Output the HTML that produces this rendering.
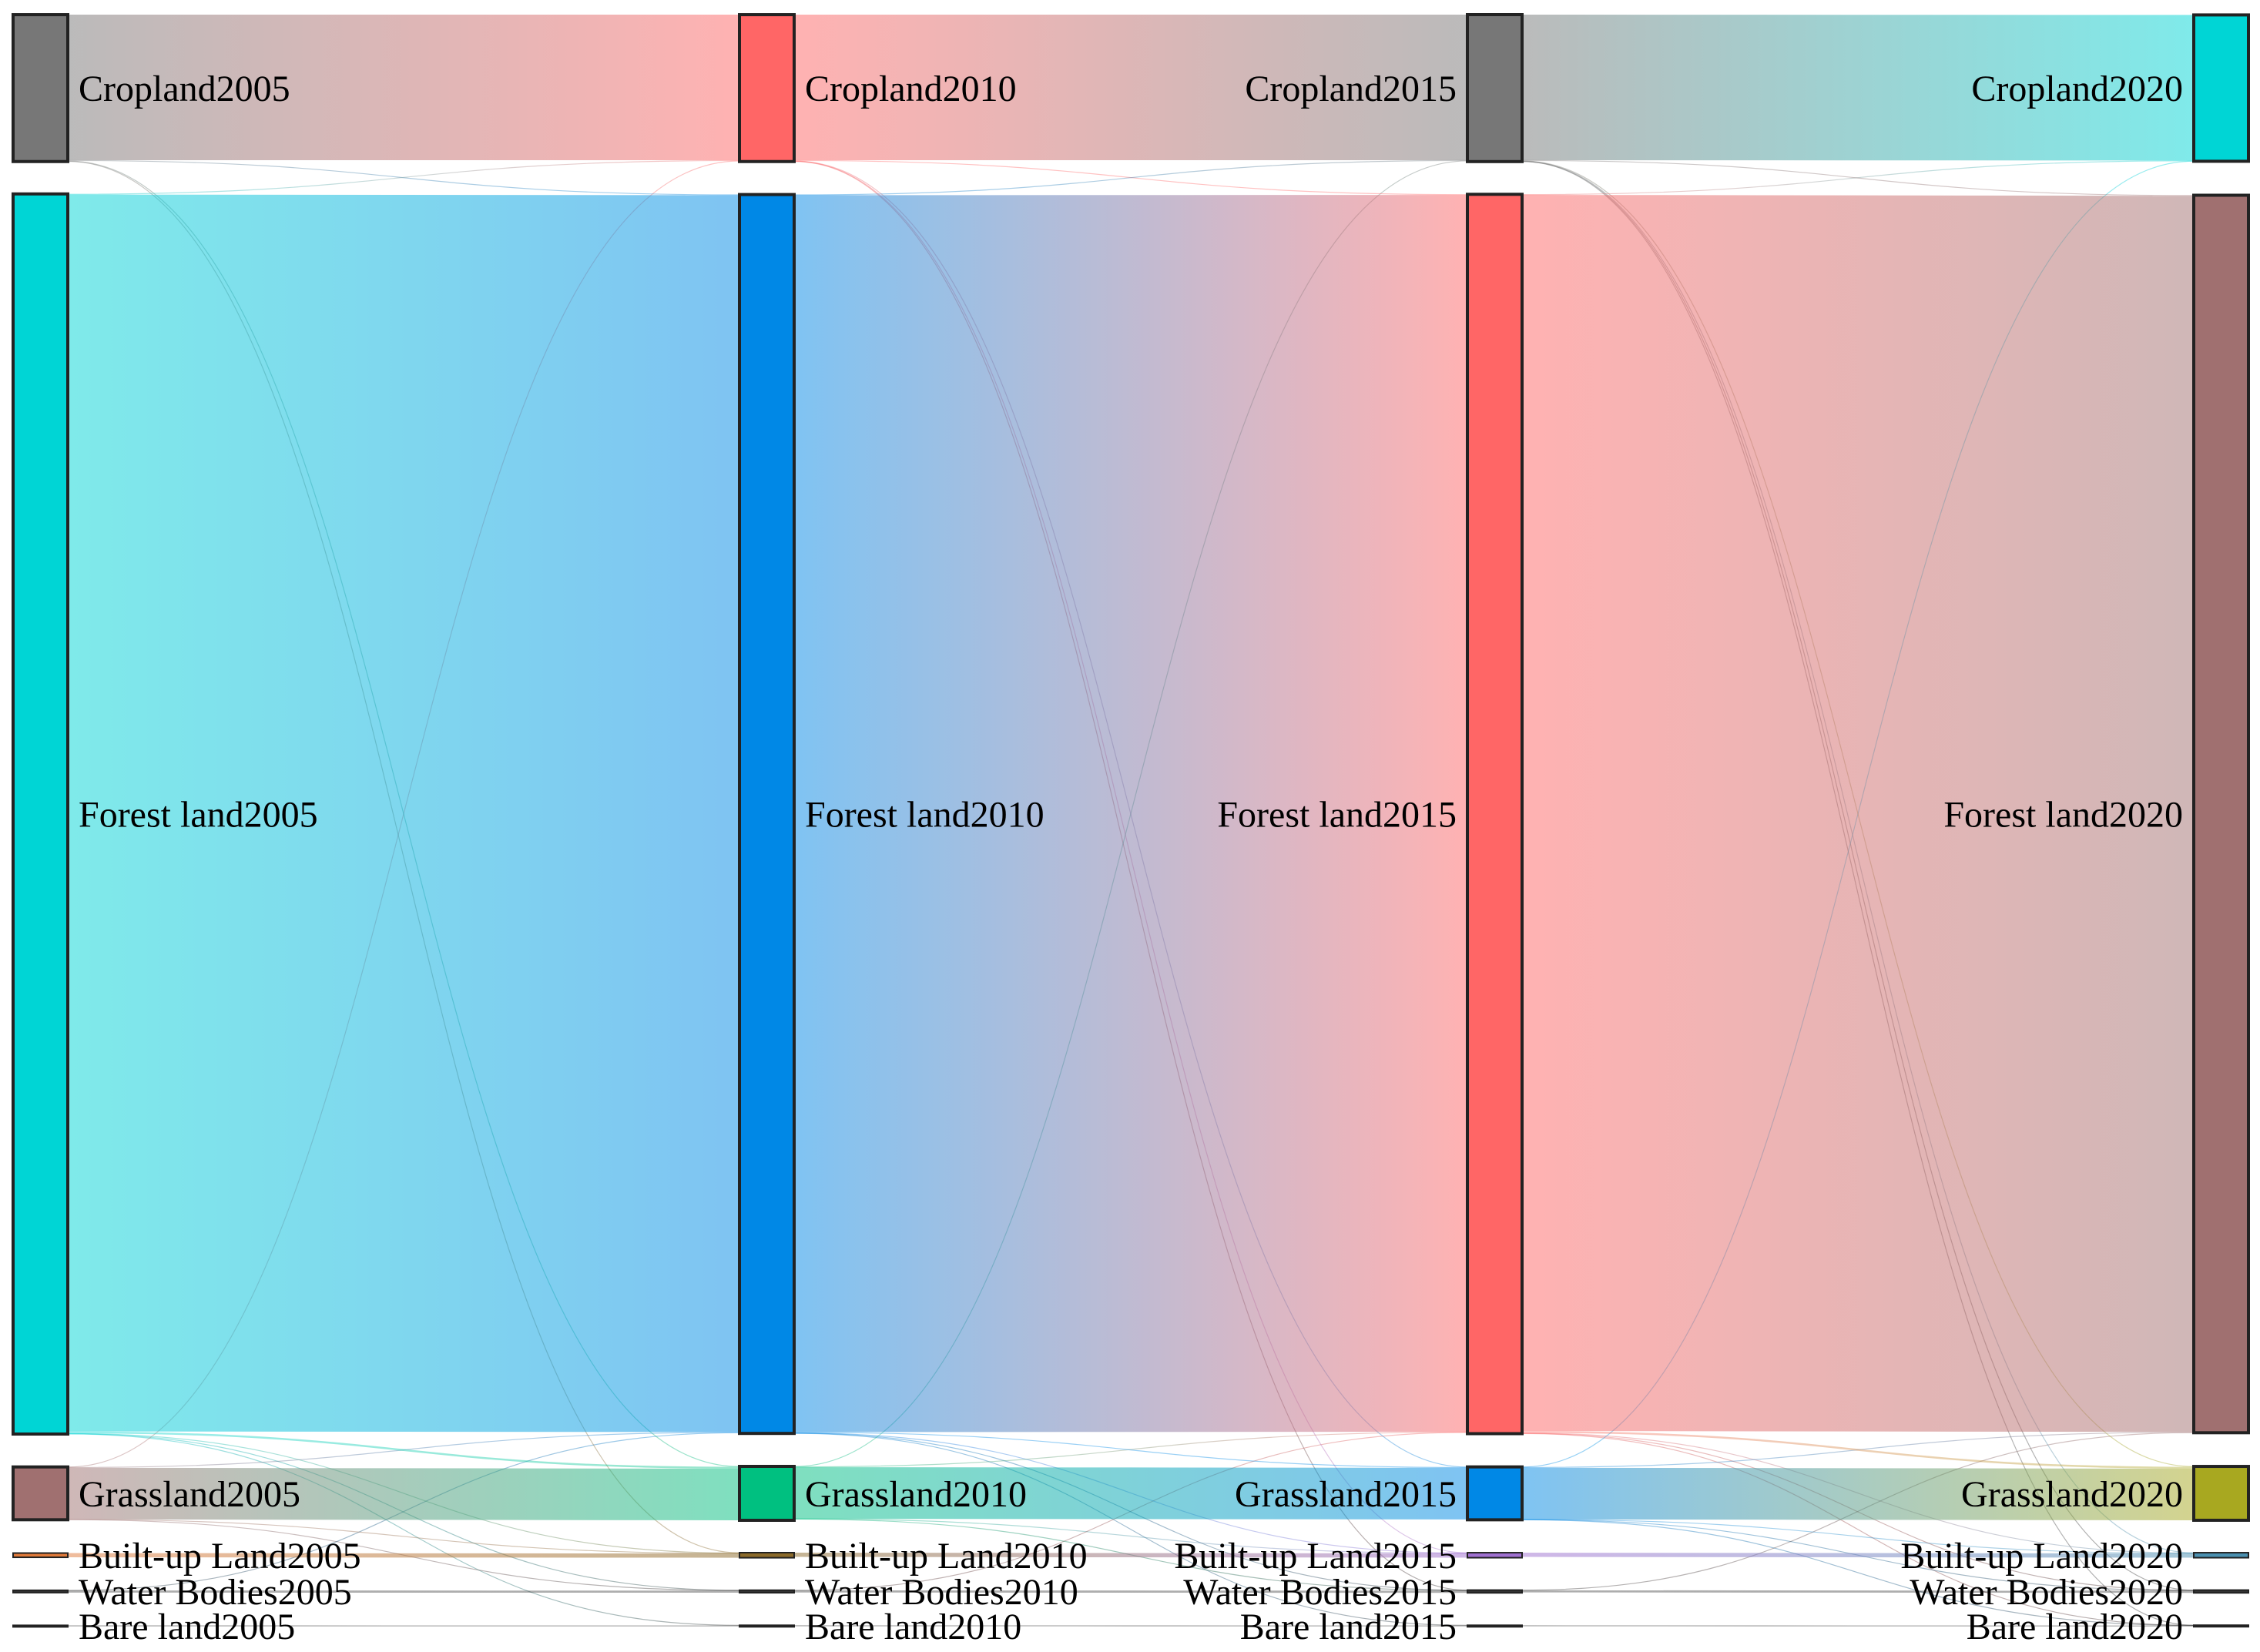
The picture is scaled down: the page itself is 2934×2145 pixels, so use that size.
<!DOCTYPE html>
<html><head><meta charset="utf-8">
<style>
html,body{margin:0;padding:0;background:#fff;}
svg{display:block;}
text{font-family:"Liberation Serif","DejaVu Serif",serif;font-size:48px;fill:#000;}
</style></head>
<body>
<svg id="chart" width="2934" height="2145" viewBox="0 0 2934 2145" xmlns="http://www.w3.org/2000/svg">
<defs id="defs"></defs>
<g id="links"></g>
<g id="nodes"></g>
<g id="labels"></g>
</svg>
<script>
// categories and years
const categories = ["Cropland", "Forest land", "Grassland", "Built-up Land", "Water Bodies", "Bare land"];
const years = ["2005", "2010", "2015", "2020"];
// node colors per year column
const colors2005 = ["#777777", "#00d5d5", "#a07070", "#e07a3a", "#333333", "#333333"];
const colors2010 = ["#ff6666", "#0088e6", "#00c080", "#8b6a2a", "#333333", "#333333"];
const colors2015 = ["#777777", "#ff6666", "#0088e6", "#a070d0", "#333333", "#333333"];
const colors2020 = ["#00d5d5", "#a07070", "#a8a820", "#4a90b0", "#333333", "#333333"];
// transition matrices [from][to] (area units)
const flows2005to2010 = [
  [189, 0.8, 0.5, 0.4, 0, 0],
  [0.8, 1606, 2.5, 0.4, 0.3, 0.2],
  [0.3, 0.8, 67, 0.3, 0.2, 0],
  [0, 0, 0, 5.5, 0, 0],
  [0, 0.2, 0, 0, 2.8, 0],
  [0, 0, 0, 0, 0, 1.3]
];
const flows2010to2015 = [
  [189, 0.8, 0.4, 0.3, 0.2, 0],
  [0.8, 1606, 0.8, 0.5, 0.3, 0.2],
  [0.3, 0.7, 67, 0.2, 0.3, 0],
  [0, 0, 0, 5.5, 0, 0],
  [0, 0.2, 0, 0, 2.8, 0],
  [0, 0, 0, 0, 0, 1.3]
];
const flows2015to2020 = [
  [189, 0.8, 0.4, 0.3, 0.2, 0.1],
  [0.7, 1605, 2.5, 0.4, 0.4, 0.2],
  [0.3, 0.8, 67, 0.3, 0.2, 0.1],
  [0, 0, 0, 5.5, 0, 0],
  [0, 0.2, 0, 0, 2.8, 0],
  [0, 0, 0, 0, 0, 1.3]
];
const stageFlows = [flows2005to2010, flows2010to2015, flows2015to2020];
const colColors = [colors2005, colors2010, colors2015, colors2020];

const NS = "http://www.w3.org/2000/svg";
const colX = [17, 960, 1905, 2848];
const nodeW = 71, top0 = 19, pad = 42, k = 1;
const defs = document.getElementById("defs");
const gL = document.getElementById("links"), gN = document.getElementById("nodes"), gT = document.getElementById("labels");

// node values = max(in, out)
const nodeVal = years.map((y, c) => categories.map((cat, i) => {
  let out = 0, inn = 0;
  if (c < 3) out = stageFlows[c][i].reduce((a, b) => a + b, 0);
  if (c > 0) for (let j = 0; j < categories.length; j++) inn += stageFlows[c - 1][j][i];
  return Math.max(out, inn);
}));
// aligned rows: row height = max across columns
const rowMax = categories.map((cat, i) => Math.max(...nodeVal.map(v => v[i])));
const rowY = []; { let y = top0; rowMax.forEach(v => { rowY.push(y); y += v * k + pad; }); }
const nodeY = nodeVal.map(vals => vals.map((v, i) => rowY[i] + (rowMax[i] - v) * k / 2));

// links
let gid = 0;
for (let s = 0; s < 3; s++) {
  const outOff = categories.map((c, i) => nodeY[s][i]);
  const inOff = categories.map((c, i) => nodeY[s + 1][i]);
  const segs = [];
  for (let i = 0; i < categories.length; i++) for (let j = 0; j < categories.length; j++) {
    const v = stageFlows[s][i][j]; if (!v) continue;
    segs.push({ i, j, v });
  }
  const y0 = {}, y1 = {};
  segs.forEach(sg => { y0[sg.i + "-" + sg.j] = outOff[sg.i] + sg.v * k / 2; outOff[sg.i] += sg.v * k; });
  for (let j = 0; j < categories.length; j++) for (let i = 0; i < categories.length; i++) {
    const v = stageFlows[s][i][j]; if (!v) continue;
    y1[i + "-" + j] = inOff[j] + v * k / 2; inOff[j] += v * k;
  }
  segs.sort((a, b) => a.v - b.v);
  segs.forEach(sg => {
    const x0 = colX[s] + nodeW, x1 = colX[s + 1];
    const a = y0[sg.i + "-" + sg.j], b = y1[sg.i + "-" + sg.j];
    const id = "g" + (gid++);
    const lg = document.createElementNS(NS, "linearGradient");
    lg.setAttribute("id", id); lg.setAttribute("gradientUnits", "userSpaceOnUse");
    lg.setAttribute("x1", x0); lg.setAttribute("x2", x1); lg.setAttribute("y1", 0); lg.setAttribute("y2", 0);
    [[0, colColors[s][sg.i]], [1, colColors[s + 1][sg.j]]].forEach(([o, c]) => {
      const st = document.createElementNS(NS, "stop"); st.setAttribute("offset", o); st.setAttribute("stop-color", c); lg.appendChild(st);
    });
    defs.appendChild(lg);
    const xm = (x0 + x1) / 2;
    const p = document.createElementNS(NS, "path");
    p.setAttribute("d", `M${x0},${a}C${xm},${a} ${xm},${b} ${x1},${b}`);
    p.setAttribute("fill", "none");
    p.setAttribute("stroke", `url(#${id})`);
    p.setAttribute("stroke-width", Math.max(sg.v * k, 1.2));
    p.setAttribute("stroke-opacity", sg.v > 3 ? 0.5 : 0.4);
    
    
    gL.appendChild(p);
  });
}

// nodes + labels
for (let c = 0; c < 4; c++) {
  for (let i = 0; i < categories.length; i++) {
    const h = Math.max(nodeVal[c][i] * k, 2);
    const r = document.createElementNS(NS, "rect");
    r.setAttribute("x", colX[c]); r.setAttribute("y", nodeY[c][i]);
    r.setAttribute("width", nodeW); r.setAttribute("height", h);
    r.setAttribute("fill", colColors[c][i]); r.setAttribute("stroke", "#222"); r.setAttribute("stroke-width", i >= 3 ? 2 : 4);
    
    
    gN.appendChild(r);
    const t = document.createElementNS(NS, "text");
    const right = c < 2;
    t.setAttribute("x", right ? colX[c] + nodeW + 14 : colX[c] - 14);
    t.setAttribute("y", nodeY[c][i] + h / 2);
    t.setAttribute("dy", "0.35em");
    t.setAttribute("text-anchor", right ? "start" : "end");
    t.textContent = categories[i] + years[c];
    
    
    gT.appendChild(t);
  }
}
</script>
</body></html>
